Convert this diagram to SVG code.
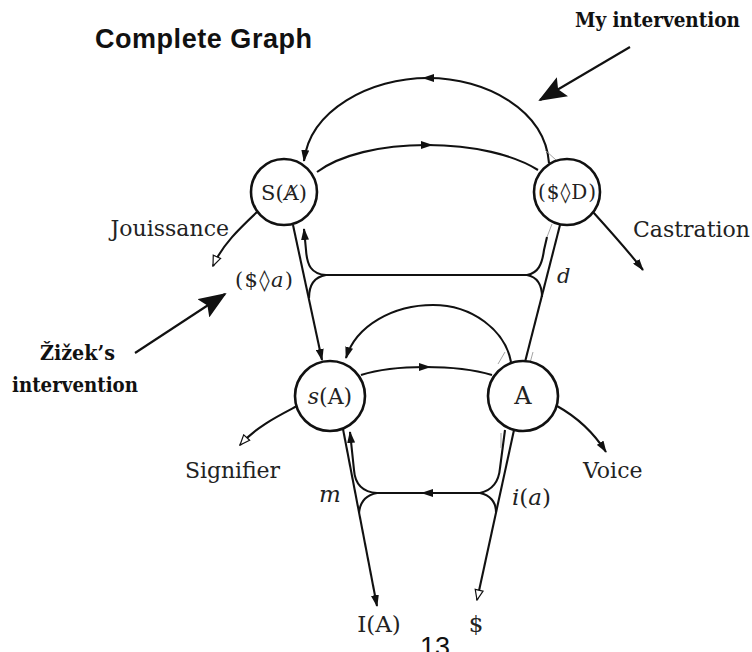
<svg xmlns="http://www.w3.org/2000/svg" width="752" height="652" viewBox="0 0 752 652">
<defs>
<marker id="ah" markerUnits="userSpaceOnUse" viewBox="0 0 12 8" markerWidth="12" markerHeight="8" refX="11" refY="4" orient="auto"><path d="M0,0 L12,4 L0,8 z" fill="#111"/></marker>
<marker id="am" markerUnits="userSpaceOnUse" viewBox="0 0 12 8" markerWidth="12" markerHeight="8" refX="6" refY="4" orient="auto"><path d="M0,0 L12,4 L0,8 z" fill="#111"/></marker>
<marker id="tri" markerUnits="userSpaceOnUse" viewBox="-1 -1 12 10" markerWidth="12" markerHeight="10" refX="10" refY="4" orient="auto"><path d="M0,0 L10,4 L0,8 z" fill="#fff" stroke="#111" stroke-width="1.2"/></marker>
<marker id="big" markerUnits="userSpaceOnUse" viewBox="0 0 28 22" markerWidth="28" markerHeight="22" refX="26" refY="11" orient="auto"><path d="M0,0 L28,11 L0,22 L5,11 z" fill="#111"/></marker>
</defs>
<style>
.n circle{fill:#fff;stroke:#111;stroke-width:2.6}
.ln{fill:none;stroke:#111;stroke-width:2.1}
.gr{fill:none;stroke:#999;stroke-width:0.9}
.t{font-family:"DejaVu Serif","Liberation Serif",serif;fill:#222}
.b{font-family:"DejaVu Serif","Liberation Serif",serif;font-weight:bold;fill:#111}
.i{font-style:italic}
</style>
<rect width="752" height="652" fill="#fff"/>

<g id="connectors">
<path class="ln" d="M549,163 C545,110 486,78 428,78 C370,78 310,110 304,161" marker-mid="url(#am)" marker-end="url(#ah)"/>
<path class="ln" d="M317,172 C340,155 380,145 427,145 C474,145 514,155 538,170" marker-mid="url(#am)"/>
<path class="ln" d="M293,225 L322,360" marker-end="url(#ah)"/>
<path class="ln" d="M326,275 C311,274 307,265 306,250 L304,229" marker-end="url(#ah)"/>
<path class="ln" d="M326,275 C314,277 309,285 309,298"/>
<path class="ln" d="M326,275 L527,275"/>
<path class="ln" d="M527,275 C538,273 542,265 544,250 L547,237"/>
<path class="ln" d="M527,275 C537,277 542,285 542,297"/>
<path class="ln" d="M560,225 L525,362"/>
<path class="ln" d="M511,362 C505,330 472,305 433,305 C394,305 356,325 346,358" marker-end="url(#ah)"/>
<path class="ln" d="M361,375 C380,369 400,367 425,367 C450,367 472,369 492,375" marker-mid="url(#am)"/>
<path class="ln" d="M343,429 L377,606" marker-end="url(#ah)"/>
<path class="ln" d="M377,493 C362,492 355,484 354,470 L350,432" marker-end="url(#ah)"/>
<path class="ln" d="M377,493 C366,495 360,502 359,513"/>
<path class="ln" d="M480,493 L427,493 L377,493" marker-mid="url(#am)"/>
<path class="ln" d="M514,430 L477,600" marker-end="url(#tri)"/>
<path class="ln" d="M480,493 C493,490 499,480 500,468 L505,430"/>
<path class="ln" d="M480,493 C490,495 496,502 496,512"/>
<path class="ln" d="M257,212 C240,228 222,245 213,266" marker-end="url(#tri)"/>
<path class="ln" d="M593,212 C612,233 628,251 643,270" marker-end="url(#ah)"/>
<path class="ln" d="M297,406 C280,415 257,426 240,445" marker-end="url(#tri)"/>
<path class="ln" d="M557,406 C575,416 592,430 606,452" marker-end="url(#ah)"/>
<path class="gr" d="M545,150 L556,160 M547,237 L552,224 M505,352 L498,364 M533,352 L530,363 M501,433 L501,448"/>
<path class="ln" d="M630,47 L540,100" stroke-width="4.2" marker-end="url(#big)"/>
<path class="ln" d="M135,353 L225,294" stroke-width="4.2" marker-end="url(#big)"/>
</g>

<g id="n-SA" class="n"><circle cx="284" cy="192" r="33"/><text class="t" x="284" y="200" font-size="21" text-anchor="middle">S(A̸)</text></g>
<g id="n-SD" class="n"><circle cx="567" cy="192" r="33"/><text class="t" x="567" y="199" font-size="20" text-anchor="middle" textLength="58">($◊D)</text></g>
<g id="n-sA" class="n"><circle cx="330" cy="396" r="35"/><text class="t" x="330" y="404" font-size="22" text-anchor="middle"><tspan class="i">s</tspan>(A)</text></g>
<g id="n-A" class="n"><circle cx="523" cy="396" r="35"/><text class="t" x="523" y="404" font-size="24" text-anchor="middle">A</text></g>

<g id="labels">
<text x="95" y="48" font-family="Liberation Sans, Arial, sans-serif" font-weight="bold" font-size="27" textLength="217" fill="#111">Complete Graph</text>
<text class="b" x="575" y="27" font-size="19.5" textLength="165" lengthAdjust="spacingAndGlyphs">My intervention</text>
<text class="b" x="40" y="360" font-size="19.5" textLength="75" lengthAdjust="spacingAndGlyphs">Žižek’s</text>
<text class="b" x="12" y="392" font-size="19.5" textLength="126" lengthAdjust="spacingAndGlyphs">intervention</text>
<text class="t" x="229" y="236" font-size="22" text-anchor="end">Jouissance</text>
<text class="t" x="633" y="237" font-size="22" textLength="117">Castration</text>
<text class="t" x="185" y="478" font-size="22" textLength="95">Signifier</text>
<text class="t" x="583" y="478" font-size="22">Voice</text>
<text class="t" x="235" y="287" font-size="21" textLength="58">($◊<tspan class="i">a</tspan>)</text>
<text class="t i" x="557" y="283" font-size="21">d</text>
<text class="t i" x="319" y="502" font-size="23">m</text>
<text class="t" x="512" y="505" font-size="23"><tspan class="i">i</tspan>(<tspan class="i">a</tspan>)</text>
<text class="t" x="379" y="632" font-size="23" text-anchor="middle">I(A)</text>
<text class="t" x="476" y="632" font-size="23" text-anchor="middle">$</text>
<text x="435" y="656" font-family="Liberation Sans, Arial, sans-serif" font-size="27" text-anchor="middle" fill="#111">13</text>
</g>
</svg>
